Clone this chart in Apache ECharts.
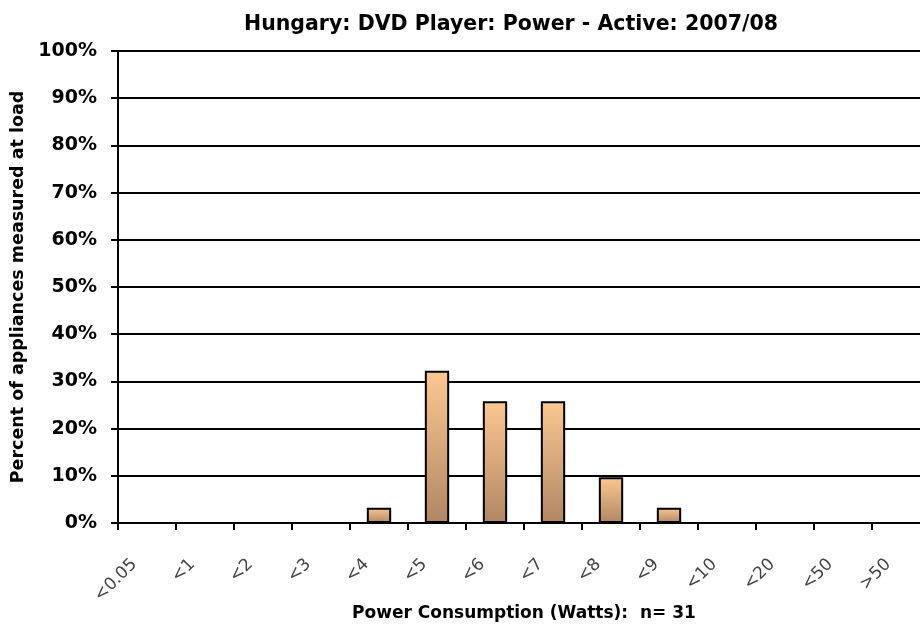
<!DOCTYPE html>
<html>
<head>
<meta charset="utf-8">
<script src="https://cdn.jsdelivr.net/npm/echarts@6/dist/echarts.min.js"></script>
<style>
  html, body { margin: 0; padding: 0; background: #fff; }
  #chart { width: 920px; height: 628px; }
</style>
</head>
<body>
<div id="chart"></div>
<script>
// Power-consumption bins (Watts)
const categories = ['<0.05', '<1', '<2', '<3', '<4', '<5', '<6', '<7', '<8', '<9', '<10', '<20', '<50', '>50'];
// Appliance counts per bin (n = 31)
const counts = [0, 0, 0, 0, 1, 10, 8, 8, 3, 1, 0, 0, 0, 0];
const sampleSize = 31;
// Share of appliances per bin, in percent
const percents = counts.map(c => c / sampleSize * 100);
const yTicks = [0, 10, 20, 30, 40, 50, 60, 70, 80, 90, 100];

const chart = echarts.init(document.getElementById('chart'));
chart.setOption({
  backgroundColor: '#ffffff',
  animation: false,
  title: {
    text: 'Hungary: DVD Player: Power - Active: 2007/08',
    left: 506,
    top: 9,
    textAlign: 'center',
    textStyle: { fontFamily: 'DejaVu Sans', fontWeight: 'bold', fontSize: 20.5, color: '#000' }
  },
  grid: { left: 118, top: 51, width: 812, height: 472, containLabel: false, outerBoundsMode: 'none' },
  xAxis: {
    type: 'category',
    data: categories,
    name: 'Power Consumption (Watts):  n= ' + sampleSize,
    nameLocation: 'middle',
    nameGap: 82,
    nameMoveOverlap: false,
    nameTextStyle: { fontFamily: 'DejaVu Sans', fontWeight: 'bold', fontSize: 17, color: '#000' },
    axisLine: { show: true, lineStyle: { color: '#000', width: 2 } },
    axisTick: { show: true, length: 7, lineStyle: { color: '#000', width: 2 } },
    axisLabel: {
      rotate: 45, margin: 26, padding: [0, 18, 0, 0],
      fontFamily: 'DejaVu Sans', fontSize: 17, color: '#444'
    },
    splitLine: { show: false }
  },
  yAxis: {
    type: 'value',
    min: yTicks[0],
    max: yTicks[yTicks.length - 1],
    interval: 10,
    name: 'Percent of appliances measured at load',
    nameLocation: 'middle',
    nameGap: 91,
    nameMoveOverlap: false,
    nameTextStyle: { fontFamily: 'DejaVu Sans', fontWeight: 'bold', fontSize: 17.5, color: '#000' },
    axisLine: { show: true, lineStyle: { color: '#000', width: 2 } },
    axisTick: { show: true, length: 7, lineStyle: { color: '#000', width: 2 } },
    axisLabel: {
      formatter: '{value}%', margin: 21,
      fontFamily: 'DejaVu Sans', fontWeight: 'bold', fontSize: 19, color: '#000'
    },
    splitLine: { show: true, lineStyle: { color: '#000', width: 2 } }
  },
  series: [{
    type: 'bar',
    data: percents,
    barWidth: '42%',
    itemStyle: {
      color: new echarts.graphic.LinearGradient(0, 0, 0, 1, [
        { offset: 0, color: '#fcc891' },
        { offset: 1, color: '#b08763' }
      ]),
      borderColor: '#000',
      borderWidth: 2
    }
  }]
});
</script>
</body>
</html>
